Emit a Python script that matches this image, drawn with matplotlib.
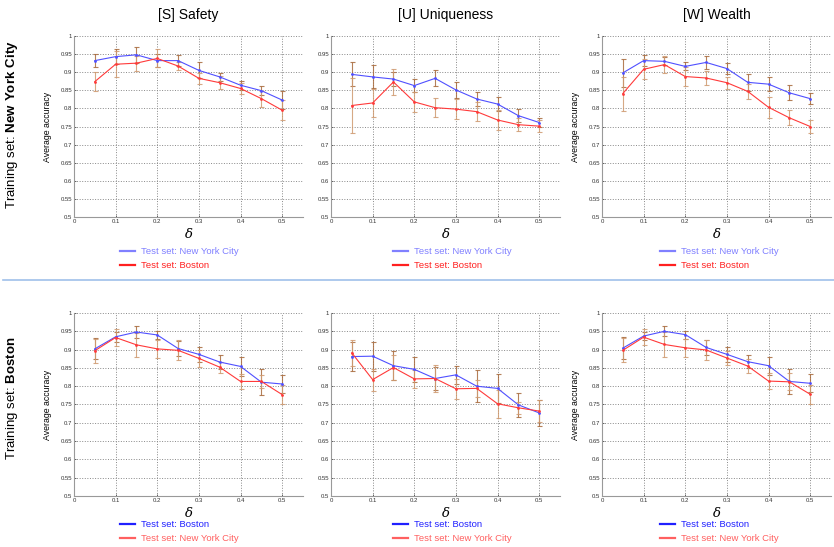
import matplotlib.pyplot as plt
from matplotlib.lines import Line2D
import numpy as np

plt.rcParams['font.family'] = ['Liberation Sans', 'DejaVu Sans']
plt.rcParams['mathtext.fontset'] = 'custom'
plt.rcParams['mathtext.rm'] = 'Liberation Sans'
plt.rcParams['mathtext.bf'] = 'Liberation Sans:bold'

delta = [0.05, 0.1, 0.15, 0.2, 0.25, 0.3, 0.35, 0.4, 0.45, 0.5]

titles = ["[S] Safety", "[U] Uniqueness", "[W] Wealth"]
row_labels = [r"Training set: $\mathbf{New\ York\ City}$", r"Training set: $\mathbf{Boston}$"]
legend_labels = [["Test set: New York City", "Test set: Boston"],
                 ["Test set: Boston", "Test set: New York City"]]

# row 0: training New York City  (blue = NYC test, red = Boston test)
safety_nyc_blue = [0.932, 0.943, 0.948, 0.932, 0.932, 0.905, 0.887, 0.864, 0.849, 0.823]
safety_nyc_red = [0.874, 0.922, 0.925, 0.938, 0.917, 0.883, 0.871, 0.855, 0.827, 0.795]
safety_nyc_blue_err = [0.018, 0.021, 0.022, 0.018, 0.015, 0.022, 0.012, 0.012, 0.012, 0.025]
safety_nyc_red_err = [0.026, 0.036, 0.021, 0.025, 0.010, 0.016, 0.018, 0.015, 0.022, 0.028]

uniq_nyc_blue = [0.894, 0.887, 0.881, 0.863, 0.883, 0.851, 0.826, 0.812, 0.780, 0.761]
uniq_nyc_red = [0.808, 0.815, 0.873, 0.818, 0.802, 0.798, 0.791, 0.768, 0.755, 0.751]
uniq_nyc_blue_err = [0.033, 0.032, 0.020, 0.017, 0.022, 0.023, 0.020, 0.020, 0.018, 0.013]
uniq_nyc_red_err = [0.075, 0.039, 0.036, 0.027, 0.026, 0.028, 0.027, 0.028, 0.018, 0.017]

wealth_nyc_blue = [0.898, 0.932, 0.930, 0.916, 0.927, 0.910, 0.872, 0.867, 0.843, 0.827]
wealth_nyc_red = [0.841, 0.908, 0.921, 0.888, 0.884, 0.871, 0.847, 0.803, 0.774, 0.750]
wealth_nyc_blue_err = [0.038, 0.016, 0.011, 0.011, 0.017, 0.015, 0.023, 0.019, 0.021, 0.016]
wealth_nyc_red_err = [0.047, 0.028, 0.024, 0.025, 0.020, 0.017, 0.020, 0.029, 0.021, 0.019]

# row 1: training Boston  (blue = Boston test, red = NYC test)
safety_bos_blue = [0.902, 0.935, 0.948, 0.940, 0.903, 0.887, 0.866, 0.854, 0.811, 0.806]
safety_bos_red = [0.897, 0.933, 0.913, 0.902, 0.898, 0.876, 0.852, 0.813, 0.813, 0.777]
safety_bos_blue_err = [0.029, 0.013, 0.016, 0.010, 0.020, 0.020, 0.018, 0.026, 0.035, 0.024]
safety_bos_red_err = [0.033, 0.022, 0.032, 0.025, 0.027, 0.023, 0.015, 0.020, 0.018, 0.027]

uniq_bos_blue = [0.881, 0.882, 0.856, 0.846, 0.821, 0.831, 0.800, 0.794, 0.749, 0.727]
uniq_bos_red = [0.891, 0.818, 0.851, 0.820, 0.821, 0.793, 0.794, 0.752, 0.741, 0.732]
uniq_bos_blue_err = [0.040, 0.040, 0.039, 0.034, 0.032, 0.024, 0.044, 0.040, 0.033, 0.035]
uniq_bos_red_err = [0.035, 0.030, 0.035, 0.025, 0.036, 0.027, 0.023, 0.038, 0.016, 0.030]

wealth_bos_blue = [0.904, 0.937, 0.950, 0.941, 0.906, 0.887, 0.867, 0.856, 0.813, 0.808]
wealth_bos_red = [0.898, 0.934, 0.914, 0.905, 0.899, 0.877, 0.855, 0.814, 0.812, 0.778]
wealth_bos_blue_err = [0.030, 0.012, 0.014, 0.011, 0.021, 0.020, 0.017, 0.025, 0.034, 0.025]
wealth_bos_red_err = [0.033, 0.022, 0.034, 0.024, 0.027, 0.020, 0.018, 0.021, 0.023, 0.026]

panels = [
    [(safety_nyc_blue, safety_nyc_blue_err, safety_nyc_red, safety_nyc_red_err),
     (uniq_nyc_blue, uniq_nyc_blue_err, uniq_nyc_red, uniq_nyc_red_err),
     (wealth_nyc_blue, wealth_nyc_blue_err, wealth_nyc_red, wealth_nyc_red_err)],
    [(safety_bos_blue, safety_bos_blue_err, safety_bos_red, safety_bos_red_err),
     (uniq_bos_blue, uniq_bos_blue_err, uniq_bos_red, uniq_bos_red_err),
     (wealth_bos_blue, wealth_bos_blue_err, wealth_bos_red, wealth_bos_red_err)],
]

W, H = 834, 547
fig = plt.figure(figsize=(W / 100, H / 100), dpi=100)

col_left = [74, 331, 602]
ax_w = 229
row_bottom = [217, 496]
row_h = [181, 183]
legend_x = [120, 393, 660]
legend_top = [247, 520]

blue = '#5050ff'
red = '#ff3a3a'
legend_colors = [['#8080ff', '#ff2020'], ['#2020ff', '#ff6060']]

for r in range(2):
    for c in range(3):
        left = col_left[c] / W
        bottom = (H - row_bottom[r]) / H
        ax = fig.add_axes([left, bottom, ax_w / W, row_h[r] / H])
        yb, yb_err, yr, yr_err = panels[r][c]

        ax.errorbar(delta, yb, yerr=yb_err, fmt='none', ecolor='#a86a3c',
                    elinewidth=0.8, capsize=1.8, capthick=0.8, alpha=0.85, zorder=2)
        ax.errorbar(delta, yr, yerr=yr_err, fmt='none', ecolor='#cf9a70',
                    elinewidth=0.8, capsize=1.8, capthick=0.8, alpha=0.85, zorder=2)
        ax.plot(delta, yb, color=blue, lw=0.8, marker='.', ms=2, zorder=3)
        ax.plot(delta, yr, color=red, lw=0.8, marker='.', ms=2, zorder=3)

        ax.set_xlim(0, 0.55)
        ax.set_ylim(0.5, 1.0)
        ax.set_xticks(np.arange(0, 0.51, 0.1))
        ax.set_xticklabels(['%g' % v for v in np.round(np.arange(0, 0.51, 0.1), 2)])
        yt = np.round(np.arange(0.5, 1.001, 0.05), 2)
        ax.set_yticks(yt)
        ax.set_yticklabels(['%g' % v for v in yt])
        ax.tick_params(labelsize=4.3, length=1.5, width=0.5, direction='in',
                       pad=1.5, colors='#333333')
        ax.grid(True, linestyle=':', color='#888888', linewidth=0.7)
        for s in ['top', 'right']:
            ax.spines[s].set_visible(False)
        for s in ['left', 'bottom']:
            ax.spines[s].set_color('#999999')
            ax.spines[s].set_linewidth(0.8)
        ax.set_xlabel('δ', family='DejaVu Serif', style='italic', fontsize=9.5, labelpad=2.5)
        if c != 1:
            ax.set_ylabel('Average accuracy', fontsize=6.3, labelpad=6)

        if r == 0:
            ax.set_title(titles[c], fontsize=10, pad=12,
                         family=['Liberation Sans Narrow', 'Liberation Sans'])

        handles = [Line2D([], [], color=legend_colors[r][0], lw=1.6),
                   Line2D([], [], color=legend_colors[r][1], lw=1.6)]
        fig.legend(handles, legend_labels[r], loc='upper left',
                   bbox_to_anchor=(legend_x[c] / W, 1 - legend_top[r] / H),
                   frameon=False, handlelength=1.6, handletextpad=0.6,
                   labelspacing=0.55, borderpad=0, borderaxespad=0,
                   labelcolor='linecolor',
                   prop={'family': ['Liberation Sans Narrow', 'Liberation Sans'], 'size': 6.8})

fig.text(12 / W, 1 - 125 / H, row_labels[0], rotation=90, fontsize=9.5,
         ha='center', va='center')
fig.text(12 / W, 1 - 398 / H, row_labels[1], rotation=90, fontsize=9.5,
         ha='center', va='center')

fig.add_artist(Line2D([3 / W, 1], [1 - 280 / H, 1 - 280 / H], color='#9fc0ea', lw=1.2))

fig.savefig('out.png', dpi=100)
